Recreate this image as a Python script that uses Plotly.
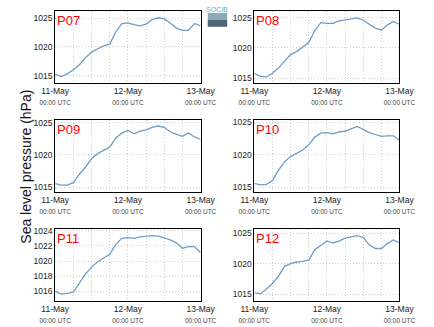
import pandas as pd
import plotly.graph_objects as go
from plotly.subplots import make_subplots

# time stamps (2-hourly, 11-May 00:00 to 13-May 00:00 UTC)
times = pd.date_range("2015-05-11 00:00", "2015-05-13 00:00", freq="2h")

stations = ["P07", "P08", "P09", "P10", "P11", "P12"]

p07 = [1015.2, 1014.8, 1015.3, 1016.0, 1016.9, 1018.1, 1019.1, 1019.7, 1020.2, 1020.5,
       1022.6, 1024.1, 1024.2, 1023.9, 1023.7, 1024.0, 1024.8, 1025.1, 1024.9, 1024.2,
       1023.3, 1022.9, 1022.9, 1024.1, 1023.7]
p08 = [1015.8, 1015.3, 1015.2, 1015.8, 1016.7, 1017.8, 1018.9, 1019.4, 1020.2, 1020.9,
       1022.9, 1024.2, 1024.1, 1024.1, 1024.5, 1024.7, 1024.8, 1025.0, 1024.6, 1024.0,
       1023.3, 1023.0, 1023.8, 1024.4, 1023.9]
p09 = [1015.55, 1015.3, 1015.3, 1015.7, 1017.0, 1018.1, 1019.4, 1020.2, 1020.7, 1021.2,
       1022.6, 1023.4, 1023.8, 1023.3, 1023.7, 1023.9, 1024.3, 1024.5, 1024.3, 1023.6,
       1023.2, 1022.9, 1023.4, 1022.8, 1022.4]
p10 = [1015.55, 1015.35, 1015.4, 1016.0, 1017.6, 1018.9, 1019.7, 1020.2, 1020.7, 1021.5,
       1022.7, 1023.3, 1023.4, 1023.2, 1023.5, 1023.6, 1024.0, 1024.35, 1023.9, 1023.4,
       1023.1, 1022.8, 1022.9, 1022.9, 1022.2]
p11 = [1016.0, 1015.65, 1015.75, 1015.9, 1017.1, 1018.3, 1019.2, 1019.9, 1020.4, 1020.9,
       1022.2, 1023.0, 1023.1, 1023.0, 1023.2, 1023.3, 1023.35, 1023.3, 1023.1, 1022.8,
       1022.4, 1021.7, 1021.9, 1021.9, 1021.1]
p12 = [1015.3, 1015.1, 1015.9, 1016.8, 1018.0, 1019.6, 1020.05, 1020.3, 1020.4, 1020.6,
       1022.3, 1023.1, 1023.75, 1023.4, 1023.7, 1024.2, 1024.4, 1024.6, 1024.3, 1023.1,
       1022.5, 1022.5, 1023.3, 1023.9, 1023.4]
series = [p07, p08, p09, p10, p11, p12]

y_ranges = [[1013.7, 1026.3], [1014.2, 1026.15], [1014.2, 1025.4],
            [1014.2, 1025.3], [1014.7, 1024.2], [1013.9, 1025.65]]
y_ticks = [[1015, 1020, 1025]] * 4 + [[1016, 1018, 1020, 1022, 1024]] + [[1015, 1020, 1025]]

x_tickvals = ["2015-05-11 00:00", "2015-05-12 00:00", "2015-05-13 00:00"]
x_ticktext = [f"{d}<br><span style='font-size:6.5px;color:#444'>00:00 UTC</span>"
              for d in ["11-May", "12-May", "13-May"]]

W, H = 434, 327
col_px = [(42.3, 199.3), (257.3, 414.0)]
row_px = [(8.0, 80.7), (118.3, 191.0), (228.3, 301.0)]

fig = make_subplots(rows=3, cols=2)
font_fam = "Liberation Sans, Arial, sans-serif"
grid_col = "#cfcfcf"
grid_dash = "1px,2px"

for i, (name, vals) in enumerate(zip(stations, series)):
    r, c = i // 2, i % 2
    fig.add_trace(go.Scatter(x=times, y=vals, mode="lines",
                             line=dict(color="#6f9cc6", width=1.3),
                             showlegend=False, hoverinfo="skip"),
                  row=r + 1, col=c + 1)
    xd = [col_px[c][0] / W, col_px[c][1] / W]
    yd = [1 - row_px[r][1] / H, 1 - row_px[r][0] / H]
    sfx = "" if i == 0 else str(i + 1)
    fig.layout["xaxis" + sfx].update(
        domain=xd, range=["2015-05-11 00:00", "2015-05-13 00:00"],
        tickvals=x_tickvals, ticktext=x_ticktext, ticks="",
        showgrid=True, gridcolor=grid_col, griddash=grid_dash, gridwidth=1,
        minor=dict(dtick=6 * 3600 * 1000, showgrid=True, gridcolor=grid_col,
                   griddash=grid_dash, gridwidth=1, ticks=""),
        showline=True, linecolor="black", linewidth=1, mirror=True,
        tickfont=dict(size=8.5, color="#222", family=font_fam), zeroline=False)
    fig.layout["yaxis" + sfx].update(
        domain=yd, range=y_ranges[i], tickvals=y_ticks[i], ticks="",
        showgrid=True, gridcolor=grid_col, griddash=grid_dash, gridwidth=1,
        showline=True, linecolor="black", linewidth=1, mirror=True,
        tickfont=dict(size=8.5, color="#222", family=font_fam), zeroline=False)
    fig.add_annotation(text=name, xref=f"x{sfx} domain", yref=f"y{sfx} domain",
                       x=0.0, y=1.0, xanchor="left", yanchor="top", showarrow=False,
                       xshift=0, yshift=0, font=dict(size=13, color="red", family=font_fam))

# y-axis title
fig.add_annotation(text="Sea level pressure (hPa)", xref="paper", yref="paper",
                   x=11 / W, y=1 - 165 / H, textangle=-90, showarrow=False,
                   xanchor="center", yanchor="middle",
                   font=dict(size=14, color="#111", family=font_fam))

# small logo
fig.add_shape(type="rect", xref="paper", yref="paper", x0=207 / W, x1=228 / W,
              y0=1 - 17 / H, y1=1 - 10 / H, fillcolor="#8ea8b5", line_width=0)
fig.add_shape(type="rect", xref="paper", yref="paper", x0=207 / W, x1=228 / W,
              y0=1 - 24 / H, y1=1 - 17 / H, fillcolor="#4f6675", line_width=0)
fig.add_annotation(text="SOCIB", xref="paper", yref="paper", x=217.5 / W, y=1 - 6.5 / H,
                   showarrow=False, xanchor="center", yanchor="middle",
                   font=dict(size=7, color="#3dbcd0", family=font_fam))

fig.update_layout(width=W, height=H, margin=dict(l=0, r=0, t=0, b=0),
                  paper_bgcolor="white", plot_bgcolor="white",
                  font=dict(family=font_fam))

fig.write_html("out.html")
